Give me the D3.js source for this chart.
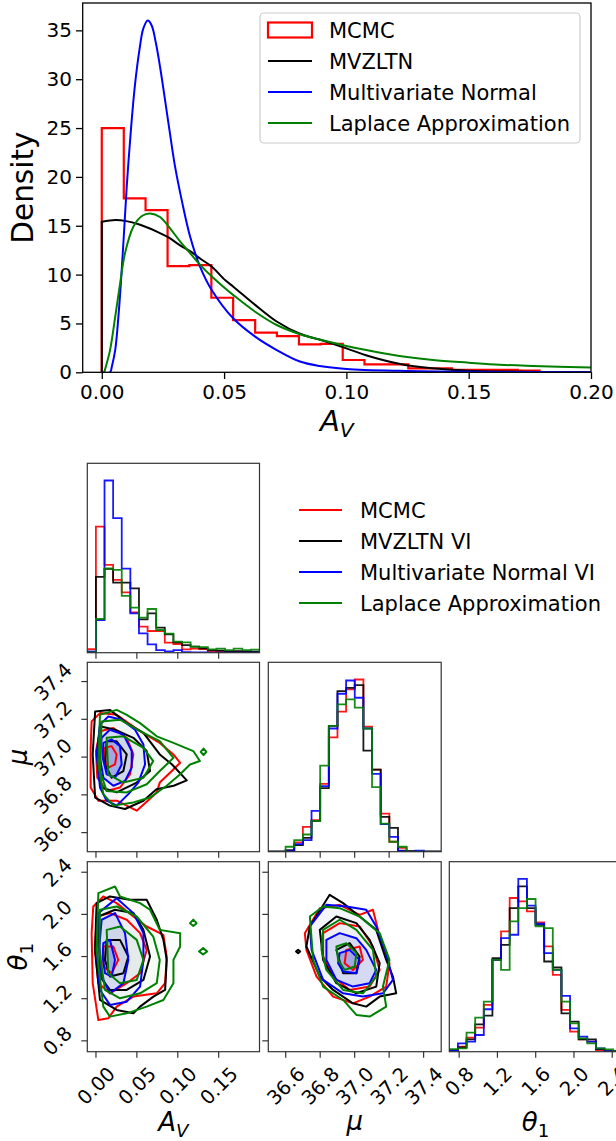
<!DOCTYPE html>
<html>
<head>
<meta charset="utf-8">
<script src="https://cdn.jsdelivr.net/npm/d3@7"></script>
<style>
  body { margin: 0; background: #fff; }
  svg { display: block; }
  text { font-family: "DejaVu Sans", sans-serif; fill: #000; }
</style>
</head>
<body>
<div id="chart"></div>
<script>
// =============================================
// DATA — top panel (posterior of A_V)
// =============================================
const methodsTop = ["MCMC", "MVZLTN", "Multivariate Normal", "Laplace Approximation"];
const methodsCorner = ["MCMC", "MVZLTN VI", "Multivariate Normal VI", "Laplace Approximation"];
const colors = ["#ff0000", "#000000", "#0000ff", "#008000"];

const avTicksTop = [0, 0.05, 0.10, 0.15, 0.20];
const densityTicks = [0, 5, 10, 15, 20, 25, 30, 35];

// MCMC histogram (density)
const mcmcEdges = [0, 0.009, 0.0179, 0.0269, 0.0358, 0.0448, 0.0537, 0.0627, 0.0716, 0.0806, 0.0895,
  0.0985, 0.1074, 0.1164, 0.1253, 0.1343, 0.1432, 0.1522, 0.1611, 0.1701, 0.179];
const mcmcDensity = [25.0, 17.8, 16.6, 10.87, 10.97, 7.63, 5.35, 4.06, 3.7, 2.85, 2.9,
  1.26, 0.82, 0.82, 0.41, 0.41, 0.24, 0.24, 0.24, 0.17];

// MVZLTN density curve (truncated at 0)
const mvzltnX = [0, 0, 0.0055, 0.0095, 0.0157, 0.0225, 0.0273, 0.032, 0.0361, 0.0402, 0.045, 0.0504,
  0.0538, 0.0627, 0.0715, 0.081, 0.089, 0.1, 0.108, 0.122, 0.135, 0.15, 0.163, 0.2];
const mvzltnY = [0, 15.4, 15.58, 15.5, 15.1, 14.4, 13.8, 13.0, 12.4, 11.65, 10.8, 9.44,
  8.76, 6.9, 5.2, 3.95, 3.35, 2.45, 1.75, 0.85, 0.41, 0.17, 0.08, 0.0];

// Multivariate normal density curve
const normalX = [0, 0.0034, 0.0041, 0.0055, 0.0068, 0.0078, 0.0089, 0.0102, 0.012, 0.0136, 0.0154, 0.017,
  0.0188, 0.0204, 0.0222, 0.0238, 0.0259, 0.0279, 0.03, 0.0327, 0.0361, 0.0402, 0.045, 0.0538,
  0.0627, 0.0715, 0.081, 0.089, 0.1, 0.122, 0.15, 0.2];
const normalY = [0, 0, 0.58, 2.3, 5.7, 9.1, 13.5, 19.0, 25.1, 29.5, 33.0, 35.2,
  36.0, 35.5, 33.6, 31.3, 27.8, 24.4, 21.0, 17.6, 13.9, 10.8, 8.4, 5.5,
  3.65, 2.28, 1.1, 0.65, 0.35, 0.15, 0.05, 0.0];

// Laplace approximation density curve
const laplaceX = [0.001, 0.0034, 0.0055, 0.0075, 0.0095, 0.0129, 0.0164, 0.0198, 0.0238, 0.028, 0.032,
  0.0361, 0.0402, 0.045, 0.0504, 0.0538, 0.0627, 0.0715, 0.081, 0.089, 0.1, 0.1081, 0.1217,
  0.1354, 0.15, 0.1626, 0.1763, 0.2];
const laplaceY = [0, 2.3, 5.7, 9.1, 12.2, 14.9, 16.0, 16.26, 15.9, 14.7, 13.4,
  12.2, 11.0, 9.8, 8.6, 7.9, 6.2, 4.84, 3.9, 3.35, 2.7, 2.28, 1.67,
  1.26, 0.99, 0.78, 0.65, 0.48];

// =============================================
// DATA — corner plot
// =============================================
const avRange = [-0.0106, 0.1999];
const muRange = [36.499, 37.502];
const thetaRange = [0.697, 2.5];
const avTicks = [0, 0.05, 0.10, 0.15];
const muTicks = [36.6, 36.8, 37.0, 37.2, 37.4];
const thetaTicks = [0.8, 1.2, 1.6, 2.0, 2.4];

// 1D histograms (20 bins across each range), order: MCMC, MVZLTN, Normal, Laplace
const avHist = [
  [11, 378, 263, 218, 181, 121, 78, 65, 65, 30, 26, 10, 12, 11, 5, 5, 3, 3, 2, 2],
  [3, 227, 251, 210, 210, 193, 100, 118, 75, 55, 31, 23, 18, 13, 8, 6, 4, 5, 4, 3],
  [3, 98, 516, 403, 252, 118, 58, 25, 8, 4, 8, 2, 1, 1, 0, 0, 0, 0, 0, 0],
  [1, 101, 253, 248, 170, 135, 105, 131, 68, 57, 33, 31, 18, 17, 10, 12, 8, 12, 8, 9]
];
const muHist = [
  [0, 0, 2, 28, 75, 95, 205, 345, 423, 490, 520, 378, 248, 115, 30, 12, 2, 0, 0, 0],
  [0, 0, 5, 20, 42, 93, 192, 380, 485, 495, 503, 305, 248, 105, 72, 3, 2, 0, 0, 0],
  [0, 0, 2, 23, 35, 123, 198, 372, 477, 517, 465, 372, 235, 83, 45, 2, 0, 3, 0, 0],
  [0, 0, 15, 35, 52, 93, 260, 380, 445, 460, 435, 372, 195, 85, 30, 15, 0, 0, 0, 0]
];
const thetaHist = [
  [5, 15, 42, 72, 140, 275, 360, 460, 450, 420, 387, 315, 230, 125, 60, 37, 30, 5, 2, 2],
  [5, 13, 37, 82, 108, 280, 320, 430, 495, 430, 380, 270, 252, 115, 90, 37, 37, 8, 2, 2],
  [3, 25, 30, 50, 127, 275, 340, 350, 517, 437, 383, 295, 245, 167, 70, 45, 30, 10, 2, 2],
  [8, 10, 57, 102, 150, 275, 245, 390, 430, 457, 375, 370, 245, 150, 85, 40, 25, 10, 7, 2]
];

// 2D contours (outer, middle, inner, extra islands) — [x, y] in data units
const avMuMcmc = [
  [[-0.0053,37.189],[0.0049,37.233],[0.0253,37.224],[0.0539,37.137],[0.078,37.075],[0.0947,37.014],[0.1029,36.970],[0.0927,36.926],[0.078,36.865],[0.0743,36.813],[0.0498,36.716],[0.0253,36.769],[0.0029,36.769],[-0.0065,36.839],[-0.0065,37.049]],
  [[0.0049,37.137],[0.0212,37.154],[0.0376,37.102],[0.0457,37.014],[0.0416,36.909],[0.0294,36.839],[0.0131,36.821],[0.0016,36.891],[0,37.032]],
  [[0.011,37.049],[0.0192,37.058],[0.0253,37.014],[0.0233,36.961],[0.0151,36.944],[0.0098,36.996]]
];
const avMuMvzltn = [
  [[-0.001,37.242],[0.017,37.250],[0.0376,37.180],[0.058,37.128],[0.078,37.014],[0.093,36.961],[0.111,36.877],[0.095,36.848],[0.074,36.830],[0.058,36.769],[0.0355,36.725],[0.017,36.743],[-0.001,36.786],[-0.004,37.014]],
  [[0.0049,37.163],[0.0233,37.145],[0.0457,37.102],[0.062,37.032],[0.0661,36.926],[0.0498,36.865],[0.0253,36.813],[0.0069,36.839],[0.0016,37.014]],
  [[0.0131,37.084],[0.0253,37.084],[0.0376,37.014],[0.0335,36.926],[0.0192,36.891],[0.011,36.961]]
];
const avMuNormal = [
  [[0.0049,37.172],[0.0151,37.215],[0.0314,37.198],[0.0478,37.145],[0.058,37.067],[0.060,36.961],[0.0518,36.865],[0.0396,36.804],[0.0253,36.743],[0.0131,36.769],[0.0049,36.839],[0.0008,37.014]],
  [[0.0069,37.102],[0.017,37.145],[0.0335,37.119],[0.0437,37.032],[0.0437,36.944],[0.0355,36.874],[0.0212,36.848],[0.009,36.891],[0.0049,36.996]],
  [[0.009,37.075],[0.0192,37.093],[0.0294,37.058],[0.0314,36.961],[0.0233,36.891],[0.0131,36.909],[0.0082,36.996]]
];
const avMuLaplace = [
  [[0.0049,37.224],[0.0253,37.250],[0.0376,37.224],[0.0539,37.180],[0.0743,37.110],[0.0947,37.075],[0.119,37.032],[0.127,36.979],[0.115,36.961],[0.1029,36.909],[0.0865,36.848],[0.0661,36.786],[0.0457,36.760],[0.0212,36.743],[0.009,36.804],[0.0029,36.961]],
  [[0.0069,37.189],[0.0294,37.198],[0.0539,37.137],[0.078,37.084],[0.0947,36.996],[0.078,36.926],[0.062,36.856],[0.0376,36.813],[0.0131,36.821],[0.0049,36.926]],
  [[0.0131,37.102],[0.0335,37.110],[0.058,37.049],[0.070,36.979],[0.058,36.891],[0.0335,36.865],[0.0151,36.909]],
  [[0.1315,37.045],[0.135,37.028],[0.1315,37.011],[0.128,37.028]]
];

const avThetaMcmc = [
  [[-0.0033,2.075],[0.009,2.170],[0.0253,2.107],[0.0457,1.980],[0.062,1.885],[0.0824,1.806],[0.0865,1.600],[0.0845,1.347],[0.0743,1.251],[0.0457,1.220],[0.0253,1.125],[0.0151,1.014],[0.0029,0.998],[-0.004,1.347],[-0.0053,1.822]],
  [[0.0008,1.980],[0.0171,2.012],[0.0376,1.949],[0.0539,1.822],[0.062,1.663],[0.0539,1.442],[0.0376,1.347],[0.0171,1.251],[0.0029,1.347],[-0.0012,1.663]],
  [[0.009,1.695],[0.0212,1.695],[0.0273,1.568],[0.0192,1.442],[0.009,1.505]]
];
const avThetaMvzltn = [
  [[0.0008,2.107],[0.017,2.170],[0.0416,2.139],[0.062,2.139],[0.0743,1.949],[0.0824,1.758],[0.0865,1.568],[0.0845,1.283],[0.0702,1.220],[0.0539,1.125],[0.0457,1.061],[0.0253,1.093],[0.0049,1.188],[-0.0012,1.663]],
  [[0.0029,1.980],[0.0233,2.044],[0.0457,2.012],[0.058,1.853],[0.0661,1.600],[0.058,1.378],[0.0376,1.283],[0.0171,1.283],[0.0049,1.410]],
  [[0.0131,1.758],[0.0294,1.758],[0.0396,1.600],[0.0335,1.442],[0.0171,1.410],[0.011,1.568]]
];
const avThetaNormal = [
  [[0.0029,2.012],[0.0253,2.154],[0.0457,2.012],[0.058,1.822],[0.058,1.568],[0.0539,1.315],[0.0376,1.172],[0.0171,1.141],[0.0049,1.283],[0.0008,1.663]],
  [[0.0069,1.949],[0.0233,2.012],[0.0355,1.822],[0.0396,1.568],[0.0335,1.347],[0.0171,1.251],[0.0069,1.410],[0.0041,1.695]],
  [[0.009,1.727],[0.0171,1.758],[0.0233,1.568],[0.0192,1.410],[0.011,1.442],[0.0082,1.600]]
];
const avThetaLaplace = [
  [[0.0029,2.202],[0.0233,2.265],[0.0294,2.170],[0.0539,2.107],[0.0661,2.044],[0.078,1.853],[0.1029,1.822],[0.1029,1.695],[0.0947,1.568],[0.0947,1.347],[0.0824,1.188],[0.062,1.125],[0.0376,1.061],[0.0171,1.030],[0.009,1.125],[0.0008,1.663]],
  [[0.0049,2.044],[0.0253,2.075],[0.0498,1.980],[0.070,1.790],[0.078,1.568],[0.0743,1.347],[0.0539,1.251],[0.0294,1.204],[0.011,1.283],[0.0041,1.663]],
  [[0.0131,1.853],[0.0294,1.885],[0.0498,1.758],[0.058,1.568],[0.0498,1.378],[0.0294,1.347],[0.0151,1.442]],
  [[0.119,1.95],[0.123,1.917],[0.119,1.89],[0.115,1.917]],
  [[0.131,1.68],[0.136,1.648],[0.131,1.62],[0.126,1.648]]
];

const muThetaMcmc = [
  [[36.711,1.822],[36.798,2.059],[36.913,2.091],[37.029,1.996],[37.106,2.044],[37.145,1.790],[37.202,1.537],[37.183,1.315],[37.087,1.220],[36.990,1.156],[36.875,1.220],[36.779,1.410],[36.720,1.663]],
  [[36.817,1.822],[36.913,1.917],[37.029,1.885],[37.106,1.695],[37.145,1.473],[37.087,1.315],[36.971,1.283],[36.875,1.410],[36.817,1.600]],
  [[36.952,1.663],[37.029,1.695],[37.048,1.568],[36.990,1.473],[36.942,1.537]]
];
const muThetaMvzltn = [
  [[36.740,1.885],[36.855,2.186],[36.933,2.107],[37.029,1.980],[37.125,1.853],[37.183,1.568],[37.222,1.410],[37.241,1.251],[37.145,1.220],[37.067,1.125],[36.990,1.156],[36.875,1.283],[36.798,1.410],[36.720,1.695]],
  [[36.798,1.853],[36.894,1.980],[37.010,1.917],[37.087,1.758],[37.145,1.537],[37.125,1.315],[37.010,1.251],[36.894,1.347],[36.817,1.568]],
  [[36.894,1.663],[36.971,1.727],[37.029,1.600],[37.010,1.442],[36.933,1.442]],
  [[36.672,1.665],[36.684,1.648],[36.672,1.631],[36.660,1.648]]
];
const muThetaNormal = [
  [[36.740,1.885],[36.836,2.091],[36.952,2.075],[37.067,2.044],[37.125,1.885],[37.183,1.632],[37.222,1.378],[37.164,1.251],[37.048,1.220],[36.933,1.251],[36.817,1.378],[36.750,1.663]],
  [[36.836,1.758],[36.913,1.822],[37.010,1.774],[37.067,1.663],[37.125,1.473],[37.087,1.347],[36.990,1.315],[36.894,1.378],[36.836,1.568]],
  [[36.913,1.632],[36.971,1.663],[37.029,1.568],[37.010,1.442],[36.933,1.457],[36.904,1.537]]
];
const muThetaLaplace = [
  [[36.740,1.980],[36.817,2.075],[36.913,2.059],[37.029,1.980],[37.145,1.822],[37.202,1.568],[37.164,1.315],[37.183,1.125],[37.087,1.030],[37.010,1.046],[36.933,1.188],[36.817,1.315],[36.759,1.568]],
  [[36.817,1.853],[36.913,1.949],[37.010,1.853],[37.106,1.663],[37.125,1.410],[37.048,1.251],[36.933,1.283],[36.836,1.473],[36.808,1.663]],
  [[36.894,1.695],[36.952,1.727],[37.010,1.632],[37.000,1.505],[36.942,1.473],[36.904,1.568]]
];

// =============================================
// SETUP
// =============================================
const W = 616, H = 1141;
const svg = d3.select("#chart").append("svg").attr("width", W).attr("height", H);
const defs = svg.append("defs");

const fmt2 = d3.format(".2f"), fmt1 = d3.format(".1f");

// math style label: parts = [{t, it, sub}]
function mathText(sel, parts, size) {
  sel.attr("font-size", size);
  parts.forEach(p => {
    const ts = sel.append("tspan").text(p.t);
    if (p.it) ts.attr("font-style", "italic");
    if (p.sub) ts.attr("font-size", size * 0.7).attr("dy", size * 0.22);
  });
  return sel;
}

function stepPath(edges, heights, x, y) {
  const p = d3.path();
  p.moveTo(x(edges[0]), y(0));
  heights.forEach((h, i) => {
    p.lineTo(x(edges[i]), y(h));
    p.lineTo(x(edges[i + 1]), y(h));
  });
  p.lineTo(x(edges[edges.length - 1]), y(0));
  return p.toString();
}

// =============================================
// TOP PANEL
// =============================================
const T = { left: 82.7, right: 591, top: 3, bottom: 372.3 };
const xA = d3.scaleLinear().domain([-0.0078, 0.2]).range([T.left, T.right]);
const yA = d3.scaleLinear().domain([0, 37.8]).range([T.bottom, T.top]);

defs.append("clipPath").attr("id", "clipTop").append("rect")
  .attr("x", T.left).attr("y", T.top).attr("width", T.right - T.left).attr("height", T.bottom - T.top);

const gTop = svg.append("g");
const plotTop = gTop.append("g").attr("clip-path", "url(#clipTop)");

plotTop.append("path")
  .attr("d", stepPath(mcmcEdges, mcmcDensity, xA, yA))
  .attr("fill", "none").attr("stroke", colors[0]).attr("stroke-width", 2.2)
  .attr("stroke-linejoin", "miter");

const curveLine = d3.line()
  .x(d => xA(d[0])).y(d => yA(d[1]))
  .curve(d3.curveCatmullRom.alpha(0.5));

// the truncated MVZLTN rises vertically at 0, so its first segment is straight
function densityPath(xs, ys, straightStart) {
  const pts = d3.zip(xs, ys);
  if (!straightStart) return curveLine(pts);
  const rest = curveLine(pts.slice(1));
  return `M${xA(pts[0][0])},${yA(pts[0][1])}L` + rest.slice(1);
}

[[mvzltnX, mvzltnY, true], [normalX, normalY, false], [laplaceX, laplaceY, false]].forEach(([xs, ys, s], i) => {
  plotTop.append("path")
    .attr("d", densityPath(xs, ys, s))
    .attr("fill", "none").attr("stroke", colors[i + 1]).attr("stroke-width", 2);
});

const axX = gTop.append("g").attr("transform", `translate(0,${T.bottom})`)
  .call(d3.axisBottom(xA).tickValues(avTicksTop).tickFormat(fmt2).tickSize(6.7).tickPadding(6).tickSizeOuter(0));
const axY = gTop.append("g").attr("transform", `translate(${T.left},0)`)
  .call(d3.axisLeft(yA).tickValues(densityTicks).tickFormat(d3.format("d")).tickSize(6.7).tickPadding(4).tickSizeOuter(0));
[axX, axY].forEach(a => {
  a.select(".domain").remove();
  a.attr("font-size", 20).attr("font-family", "DejaVu Sans");
  a.selectAll("line").attr("stroke", "#000").attr("stroke-width", 1.3);
});

gTop.append("rect")
  .attr("x", T.left).attr("y", T.top).attr("width", T.right - T.left).attr("height", T.bottom - T.top)
  .attr("fill", "none").attr("stroke", "#000").attr("stroke-width", 1.3);

gTop.append("text")
  .attr("transform", `translate(33,${(T.top + T.bottom) / 2}) rotate(-90)`)
  .attr("text-anchor", "middle").attr("font-size", 29.5).text("Density");

mathText(gTop.append("text")
  .attr("x", (T.left + T.right) / 2).attr("y", 431).attr("text-anchor", "middle"),
  [{ t: "A", it: true }, { t: "V", it: true, sub: true }], 29);

// legend
const lgTop = gTop.append("g");
lgTop.append("rect").attr("x", 260).attr("y", 13).attr("width", 320).attr("height", 130)
  .attr("rx", 4).attr("fill", "#fff").attr("fill-opacity", 0.8)
  .attr("stroke", "#cccccc").attr("stroke-width", 1.2);
methodsTop.forEach((m, i) => {
  const cy = 30 + i * 31;
  if (i === 0) {
    lgTop.append("rect").attr("x", 268).attr("y", cy - 7.5).attr("width", 44).attr("height", 15)
      .attr("fill", "none").attr("stroke", colors[i]).attr("stroke-width", 2.2);
  } else {
    lgTop.append("line").attr("x1", 268).attr("x2", 312).attr("y1", cy).attr("y2", cy)
      .attr("stroke", colors[i]).attr("stroke-width", 2);
  }
  lgTop.append("text").attr("x", 329).attr("y", cy).attr("dy", "0.36em")
    .attr("font-size", 21).text(m);
});

// =============================================
// CORNER PLOT
// =============================================
const colX = [[87.3, 259.5], [268.3, 441.2], [449.3, 621.8]];
const rowY = [[463.3, 652.7], [662.3, 851.7], [861.7, 1051.7]];
const ranges = [avRange, muRange, thetaRange];
const tickSets = [avTicks, muTicks, thetaTicks];
const tickFmts = [fmt2, fmt1, fmt1];
const hists = [avHist, muHist, thetaHist];

const xS = ranges.map((r, i) => d3.scaleLinear().domain(r).range(colX[i]));
const yS = ranges.map((r, i) => d3.scaleLinear().domain(r).range([rowY[i][1], rowY[i][0]]));

const gC = svg.append("g");
const TICK = 6, SPINE = "#333", TFS = 19.5;

function panelFrame(g, r, c) {
  g.append("rect")
    .attr("x", colX[c][0]).attr("y", rowY[r][0])
    .attr("width", colX[c][1] - colX[c][0]).attr("height", rowY[r][1] - rowY[r][0])
    .attr("fill", "none").attr("stroke", SPINE).attr("stroke-width", 1.2);
}

function clipFor(r, c) {
  const id = `clip${r}${c}`;
  defs.append("clipPath").attr("id", id).append("rect")
    .attr("x", colX[c][0]).attr("y", rowY[r][0])
    .attr("width", colX[c][1] - colX[c][0]).attr("height", rowY[r][1] - rowY[r][0]);
  return `url(#${id})`;
}

function bottomTicks(g, r, c, labels) {
  const axisY = rowY[r][1];
  tickSets[c].forEach(t => {
    const x = xS[c](t);
    g.append("line").attr("x1", x).attr("x2", x).attr("y1", axisY).attr("y2", axisY + TICK)
      .attr("stroke", SPINE).attr("stroke-width", 1.2);
    if (!labels) return;
    const txt = g.append("text").attr("font-size", TFS).attr("text-anchor", "middle")
      .attr("dy", "0.36em").text(tickFmts[c](t));
    const L = txt.node().getComputedTextLength();
    const half = (L + 0.73 * TFS) / (2 * Math.SQRT2);
    txt.attr("transform", `translate(${x},${axisY + 13.5 + half}) rotate(-45)`);
  });
}

function leftTicks(g, r, c, labels) {
  const axisX = colX[c][0];
  tickSets[r].forEach(t => {
    const y = yS[r](t);
    g.append("line").attr("x1", axisX - TICK).attr("x2", axisX).attr("y1", y).attr("y2", y)
      .attr("stroke", SPINE).attr("stroke-width", 1.2);
    if (!labels) return;
    const txt = g.append("text").attr("font-size", TFS).attr("text-anchor", "middle")
      .attr("dy", "0.36em").text(tickFmts[r](t));
    const L = txt.node().getComputedTextLength();
    const half = (L + 0.73 * TFS) / (2 * Math.SQRT2);
    txt.attr("transform", `translate(${axisX - 14 - half},${y}) rotate(-45)`);
  });
}

// diagonal histograms
hists.forEach((hs, i) => {
  const g = gC.append("g");
  const r = ranges[i];
  const edges = d3.range(21).map(k => r[0] + (r[1] - r[0]) * k / 20); // 20 equal bins over the range
  const maxH = d3.max(hs.flat());
  const yH = d3.scaleLinear().domain([0, 1.1 * maxH]).range([rowY[i][1], rowY[i][0]]);
  const pg = g.append("g").attr("clip-path", clipFor(i, i));
  hs.forEach((h, k) => {
    pg.append("path").attr("d", stepPath(edges, h, xS[i], yH))
      .attr("fill", "none").attr("stroke", colors[k]).attr("stroke-width", 1.8)
      .attr("stroke-opacity", 0.9);
  });
  panelFrame(g, i, i);
  bottomTicks(g, i, i, i === 2);
});

// 2D contour panels
const contourSets = {
  "1-0": [avMuMcmc, avMuMvzltn, avMuNormal, avMuLaplace],
  "2-0": [avThetaMcmc, avThetaMvzltn, avThetaNormal, avThetaLaplace],
  "2-1": [muThetaMcmc, muThetaMvzltn, muThetaNormal, muThetaLaplace]
};
const fillOpacity = [
  [0, 0.01, 0.02],
  [0, 0.005, 0.01],
  [0.03, 0.09, 0.2],
  [0.015, 0.02, 0.03]
];

[[1, 0], [2, 0], [2, 1]].forEach(([r, c]) => {
  const g = gC.append("g");
  const pg = g.append("g").attr("clip-path", clipFor(r, c));
  const ring = d3.line().x(d => xS[c](d[0])).y(d => yS[r](d[1])).curve(d3.curveLinearClosed);
  const sets = contourSets[`${r}-${c}`];
  // light density fills first
  sets.forEach((rings, k) => {
    rings.slice(0, 3).forEach((pts, j) => {
      pg.append("path").attr("d", ring(pts))
        .attr("fill", colors[k]).attr("fill-opacity", fillOpacity[k][j]).attr("stroke", "none");
    });
  });
  // contour lines
  sets.forEach((rings, k) => {
    rings.forEach(pts => {
      pg.append("path").attr("d", ring(pts))
        .attr("fill", "none").attr("stroke", colors[k]).attr("stroke-width", 2)
        .attr("stroke-linejoin", "round");
    });
  });
  panelFrame(g, r, c);
  bottomTicks(g, r, c, r === 2);
  leftTicks(g, r, c, c === 0);
});

// axis labels
const LFS = 26;
mathText(gC.append("text").attr("text-anchor", "middle")
  .attr("transform", `translate(27,${(rowY[1][0] + rowY[1][1]) / 2}) rotate(-90)`),
  [{ t: "μ", it: true }], LFS);
mathText(gC.append("text").attr("text-anchor", "middle")
  .attr("transform", `translate(27,${(rowY[2][0] + rowY[2][1]) / 2}) rotate(-90)`),
  [{ t: "θ", it: true }, { t: "1", sub: true }], LFS);
mathText(gC.append("text").attr("text-anchor", "middle")
  .attr("x", (colX[0][0] + colX[0][1]) / 2).attr("y", 1131),
  [{ t: "A", it: true }, { t: "V", it: true, sub: true }], LFS);
mathText(gC.append("text").attr("text-anchor", "middle")
  .attr("x", (colX[1][0] + colX[1][1]) / 2).attr("y", 1130),
  [{ t: "μ", it: true }], LFS);
mathText(gC.append("text").attr("text-anchor", "middle")
  .attr("x", (colX[2][0] + colX[2][1]) / 2).attr("y", 1131),
  [{ t: "θ", it: true }, { t: "1", sub: true }], LFS);

// corner legend
const lgC = gC.append("g");
methodsCorner.forEach((m, i) => {
  const cy = 510 + i * 31;
  lgC.append("line").attr("x1", 299).attr("x2", 342).attr("y1", cy).attr("y2", cy)
    .attr("stroke", colors[i]).attr("stroke-width", 2);
  lgC.append("text").attr("x", 360).attr("y", cy).attr("dy", "0.36em")
    .attr("font-size", 21).text(m);
});
</script>
</body>
</html>
